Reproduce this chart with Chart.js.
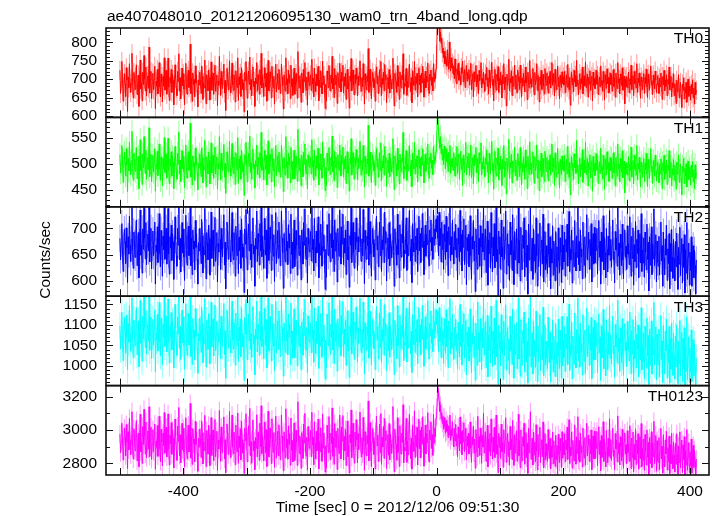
<!DOCTYPE html>
<html><head><meta charset="utf-8">
<script src="https://cdn.jsdelivr.net/npm/chart.js@4/dist/chart.umd.min.js"></script>
<style>html,body{margin:0;padding:0;background:#fff;}#wrap{width:717px;height:516px;}</style>
</head><body><div id="wrap"><canvas id="c" width="717" height="516"></canvas></div>
<script>
const titleText = "ae407048010_20121206095130_wam0_trn_4band_long.qdp";
const xTitle = "Time [sec] 0 = 2012/12/06 09:51:30";
const yTitle = "Counts/sec";
const binStart = -500;
const binSize = 1;
const panelNames = ["TH0", "TH1", "TH2", "TH3", "TH0123"];
const xTickLabels = [-400, -200, 0, 200, 400];
const yMins = [596, 417, 571, 952, 2730];
const yMaxs = [839, 589, 741, 1170, 3267];
const yMajor = [50, 50, 50, 50, 200];
const yMinor = [10, 10, 10, 10, 100];
const errHalf = [26, 22, 26, 33, 54];

const th0 = [
724,661,693,748,702,640,679,715,688,653,731,697,612,706,677,742,689,664,701,770,683,649,718,695,672,
706,739,658,684,711,626,697,752,673,690,641,719,685,764,700,668,733,654,692,709,675,787,662,698,721,
647,688,716,671,699,735,620,694,681,726,660,703,745,679,652,714,692,638,707,681,758,670,696,724,659,
691,757,678,642,705,689,726,664,713,698,630,684,739,702,675,655,721,693,769,667,704,646,688,730,682,
715,673,630,697,743,686,659,708,724,677,692,795,661,703,640,717,685,699,652,736,690,711,671,625,698,
684,719,699,661,736,708,645,690,676,752,688,633,712,697,668,725,704,643,683,747,670,694,716,659,705,
738,667,690,711,628,695,683,762,702,656,721,686,674,709,741,662,697,615,688,729,706,671,693,750,680,
663,701,744,684,669,712,697,638,723,690,677,758,642,706,685,716,653,731,699,672,690,611,719,696,748,
695,648,707,722,686,760,671,699,655,714,733,680,694,626,703,688,745,667,712,697,659,726,684,770,676,
709,688,653,731,702,679,716,640,694,751,668,687,720,703,649,735,691,676,708,632,699,741,665,689,715,
672,727,698,661,689,741,706,683,619,712,695,667,758,684,701,660,724,690,712,647,738,679,701,656,693,
730,659,684,715,693,648,775,699,676,709,688,637,717,700,663,727,693,745,681,670,706,629,719,697,682,
698,712,669,754,687,703,652,730,691,666,714,682,706,735,641,697,678,723,692,660,749,686,709,673,620,
686,641,722,700,677,737,694,668,711,689,762,674,703,650,729,685,712,696,634,718,691,677,743,701,665,
719,695,738,662,706,681,716,645,698,727,673,691,621,708,694,756,668,700,725,683,657,712,688,730,699,
654,708,683,719,750,690,667,704,679,742,697,632,715,688,671,709,693,783,664,701,727,680,646,696,718,
703,677,696,640,714,733,688,709,661,694,726,679,748,655,702,686,719,668,740,697,712,636,689,705,674,
726,662,711,690,673,699,757,684,627,716,700,693,664,737,681,705,645,720,692,676,711,698,769,659,688,
681,703,729,656,694,678,712,741,689,667,704,636,723,696,683,748,670,707,688,716,652,699,731,684,710,
664,716,690,735,702,651,689,722,676,708,693,744,680,661,714,697,725,683,705,668,742,694,716,700,728,
768,852,879,866,841,803,828,797,812,771,785,758,776,741,762,752,735,780,746,727,801,744,722,758,730,
742,714,736,701,755,719,688,728,711,743,697,722,705,684,731,716,749,693,708,726,677,712,737,695,718,
701,726,684,709,743,671,698,715,652,720,693,704,737,679,712,689,660,724,696,711,745,676,702,688,719,
690,667,714,698,732,681,704,659,725,692,676,717,746,683,699,641,708,727,689,670,713,695,734,664,702,
684,719,697,649,711,688,742,671,706,693,627,714,682,699,754,668,701,690,723,655,708,680,696,738,673,
712,686,663,725,694,707,672,738,689,651,702,681,716,697,665,733,690,708,644,719,693,676,751,687,699,
678,704,729,690,657,718,684,697,742,669,710,691,638,706,685,724,672,694,713,681,660,729,697,683,717,
695,662,708,687,721,676,700,745,683,715,692,654,727,689,671,698,736,680,706,646,711,693,677,720,688,
706,684,721,663,697,712,678,740,690,671,705,629,696,718,685,703,665,724,692,710,679,751,684,698,657,
689,715,672,701,688,733,660,696,709,681,747,677,692,714,651,705,687,723,669,695,708,641,719,683,702,
674,699,724,686,710,658,693,706,679,736,684,697,667,721,690,643,712,696,675,728,688,705,662,694,717,
685,712,667,698,726,680,703,651,716,692,674,745,689,701,660,714,697,682,731,670,694,708,633,700,679,
707,676,690,719,663,701,685,738,672,696,710,655,721,688,699,676,742,664,703,690,717,681,648,706,693,
672,698,715,661,704,688,727,679,650,713,692,670,701,736,684,696,658,711,689,674,722,697,663,686,709,
688,661,703,679,716,692,645,707,684,724,668,697,680,712,655,699,686,733,671,694,708,652,690,677,715,
655,688,673,634,697,665,680,712,649,676,691,658,623,687,670,704,646,679,663,692,637,674,700,653,681,
667,643,685,660,698,649,676,632,691,658,670
];
const th1 = [
517,482,499,535,508,464,491,522,503,476,529,497,446,510,486,541,501,479,506,562,494,468,520,500,485,
509,531,471,493,514,452,500,546,487,498,460,519,492,552,505,481,526,470,499,512,488,569,475,502,518,
465,496,516,484,503,529,447,500,490,524,477,507,538,489,468,513,498,457,510,490,550,483,501,519,472,
497,549,487,461,509,495,523,476,514,502,452,492,533,505,486,470,520,499,561,480,507,465,495,525,490,
514,485,454,501,536,493,472,511,523,487,498,578,474,506,459,515,493,502,468,530,497,512,483,450,501,
492,519,503,475,530,511,463,497,488,545,494,455,513,501,480,522,507,461,491,540,482,499,516,472,508,
532,480,497,513,451,500,490,552,505,469,520,493,486,510,537,474,501,443,495,523,509,484,498,543,490,
476,506,539,493,481,513,501,460,521,497,488,550,462,509,492,515,470,526,502,484,497,439,517,499,541,
500,465,510,520,494,553,483,502,470,514,528,490,499,453,506,495,536,479,512,501,473,521,493,560,487,
511,494,469,525,506,489,516,459,500,544,480,494,518,505,465,529,497,486,510,455,503,535,477,496,515,
484,522,501,474,496,535,508,492,446,512,499,478,552,493,504,472,520,497,513,463,531,488,504,470,499,
526,471,492,514,499,466,566,503,487,510,495,457,516,502,475,522,499,538,490,481,508,452,517,501,493,
502,513,480,546,494,506,468,526,497,476,515,491,508,530,459,501,488,519,497,472,542,494,511,484,448,
493,458,520,503,487,531,499,479,512,495,553,484,505,467,524,493,513,500,454,517,497,487,536,504,476,
516,500,532,474,508,490,515,462,502,523,482,497,447,510,499,548,478,503,521,492,470,512,495,527,502,
469,510,491,516,543,497,478,506,487,535,501,455,514,494,481,509,499,574,476,504,522,489,463,500,517,
505,486,500,458,513,529,494,510,474,499,521,487,540,467,505,492,516,478,533,500,512,456,496,507,483,
520,475,511,496,484,502,548,491,450,515,503,499,476,530,488,507,461,518,497,484,511,502,560,471,495,
489,505,525,468,500,486,512,535,495,477,507,456,520,501,490,541,480,509,494,515,465,502,527,491,511,
476,514,497,529,504,463,495,519,485,510,499,538,488,472,513,502,520,491,507,479,534,500,515,505,523,
541,586,593,562,548,530,552,519,538,507,528,498,534,512,490,529,503,518,485,522,497,535,481,509,494,
510,487,521,498,476,513,495,533,480,506,519,470,502,524,489,511,458,516,497,483,509,541,478,500,514,
492,520,477,505,536,473,499,512,461,517,496,504,531,482,510,492,465,521,500,508,540,478,503,490,513,
494,475,511,499,527,485,503,463,520,495,480,514,543,486,500,451,508,524,491,476,511,497,530,469,502,
488,514,498,458,509,491,535,474,504,496,442,511,485,500,547,472,502,493,518,463,505,484,497,532,477,
507,489,468,520,496,505,475,531,491,459,501,484,513,498,470,526,492,506,452,514,494,479,542,488,500,
480,503,522,491,462,514,486,497,536,472,507,493,448,505,487,520,475,495,510,483,466,524,497,485,512,
495,467,506,488,517,478,499,538,484,511,493,458,521,489,474,498,530,481,504,453,508,493,479,515,488,
505,486,516,466,497,509,480,534,491,474,503,440,496,514,487,501,469,519,492,507,481,545,485,498,461,
490,511,475,499,489,527,464,496,507,482,541,479,493,510,457,503,488,517,472,495,506,447,514,485,500,
477,499,519,487,507,462,493,504,481,530,486,497,470,516,491,451,509,496,478,523,489,503,466,494,512,
486,509,471,497,521,482,501,457,512,493,476,538,490,499,465,510,496,483,525,473,494,505,444,499,480,
502,478,491,514,467,499,486,532,474,496,506,461,516,489,498,478,535,469,501,490,512,483,455,503,494,
474,497,510,465,501,488,520,480,456,508,492,472,499,529,485,495,462,506,489,476,516,496,467,487,503,
486,463,499,480,509,492,452,502,485,516,470,496,481,507,460,497,487,525,473,494,503,457,490,478,508,
468,497,485,451,503,479,492,517,464,488,499,473,440,495,484,510,462,491,477,500,455,486,505,469,493,
480,459,497,474,504,465,489,452,498,471,483
];
const th2 = [
681,640,672,709,659,618,666,698,675,633,701,663,597,684,651,723,668,637,679,741,656,624,693,670,645,
688,716,629,661,692,606,673,735,649,668,615,699,660,749,682,642,711,631,670,689,657,760,636,676,700,
623,664,695,648,677,712,594,668,656,703,635,683,728,652,627,696,666,609,685,659,744,641,670,700,632,
667,738,651,613,684,663,706,639,690,674,603,659,722,679,648,628,700,668,756,640,681,617,662,711,653,
699,645,601,672,725,660,630,686,704,648,666,771,629,681,612,697,661,676,621,715,664,690,642,594,673,
657,700,675,633,717,686,615,665,650,738,661,604,692,672,640,706,681,611,654,731,643,668,697,628,683,
721,637,666,692,598,671,655,752,679,622,700,660,646,688,726,630,674,585,662,712,684,641,668,740,652,
636,678,730,657,640,692,673,609,704,665,648,745,614,683,658,697,624,718,671,645,664,578,699,670,736,
668,621,684,708,657,751,640,670,626,693,720,651,667,590,681,661,733,637,690,674,630,709,657,762,646,
685,660,624,719,678,649,697,605,668,741,639,658,702,680,620,726,664,647,688,599,672,730,633,662,696,
643,712,671,629,661,733,682,654,586,690,667,636,755,657,675,631,707,663,690,614,727,650,674,624,665,
716,627,656,696,668,611,773,675,648,687,660,602,697,674,632,711,668,737,653,641,683,596,700,670,655,
672,694,638,746,660,679,619,719,664,634,695,653,683,722,606,671,649,708,666,628,742,657,688,641,584,
660,607,707,675,648,728,669,636,690,663,757,643,678,618,716,657,692,672,598,700,665,647,735,678,632,
703,670,727,631,681,653,697,612,672,714,640,664,588,686,668,749,635,675,711,654,624,693,660,720,674,
620,684,655,700,744,664,637,680,648,736,673,595,696,661,641,685,667,782,630,677,713,651,609,671,700,
679,646,671,602,693,723,659,686,627,668,712,648,741,618,678,660,703,635,731,672,694,600,663,682,642,
711,629,688,665,644,676,752,656,590,699,675,667,630,727,650,680,606,707,664,645,689,672,764,624,658,
652,681,720,620,669,648,695,734,661,638,679,597,709,673,655,744,637,685,659,700,618,676,723,657,690,
635,701,664,729,676,612,663,706,647,688,669,738,652,629,697,674,716,657,683,641,735,668,699,680,717,
694,724,681,648,731,667,700,636,712,660,690,622,707,675,641,723,655,694,610,703,669,742,638,684,650,
716,665,632,694,659,708,645,681,602,701,670,637,734,656,688,619,697,664,718,631,661,706,593,682,658,
689,627,668,724,648,603,684,661,715,638,676,580,699,662,622,737,650,681,628,705,664,607,690,655,746,
640,673,699,616,659,714,592,678,652,692,624,730,663,617,683,648,709,625,672,740,637,660,568,695,651,
684,622,716,646,664,586,703,641,678,733,613,661,690,629,670,601,712,650,677,620,726,658,593,694,640,
667,699,614,655,744,634,677,600,702,645,622,687,662,720,608,652,697,626,668,575,708,640,664,752,619,
656,681,603,699,638,670,616,720,648,590,690,627,663,710,610,659,678,632,727,598,646,694,621,667,633,
614,709,651,626,684,585,661,634,705,611,676,645,600,694,627,665,572,701,639,616,682,654,597,706,622,
668,636,693,609,679,655,708,628,672,732,618,660,640,697,596,677,651,627,715,656,619,686,645,743,631,
675,619,697,646,661,604,712,653,630,684,607,669,726,640,664,693,622,679,648,709,598,657,690,632,702,
634,690,658,700,613,665,715,645,676,594,693,637,662,724,621,683,654,606,700,660,617,685,649,734,639,
679,626,668,716,640,656,596,694,659,682,628,748,647,672,611,689,663,629,708,640,604,674,697,645,666,
622,705,651,670,631,722,656,609,685,643,701,592,669,637,713,625,679,652,697,606,662,690,634,728,618,
659,634,682,607,693,655,621,708,641,674,581,684,630,664,703,612,671,642,737,629,650,688,598,676,636,
628,685,611,657,712,638,667,590,693,644,612,680,649,706,601,661,633,690,585,671,618,698,646,605,679,
643,600,675,627,691,648,584,664,632,702,610,654,681,596,670,626,688,577,660,615,711,603,646,672,592,
655,620,684,590,648,667,606,658,630,575,640
];
const th3 = [
1097,1041,1082,1131,1067,1013,1075,1118,1088,1031,1124,1071,990,1103,1058,1147,1080,1036,1093,1166,1062,1020,1112,1078,1049,
1104,1142,1027,1070,1110,998,1084,1160,1055,1079,1011,1121,1066,1170,1095,1045,1135,1029,1077,1101,1060,1175,1038,1088,1119,
1018,1072,1114,1050,1090,1137,986,1080,1063,1125,1036,1096,1155,1059,1024,1116,1076,1003,1101,1068,1168,1047,1083,1122,1034,
1074,1163,1058,1007,1097,1071,1130,1039,1108,1085,995,1066,1150,1092,1052,1026,1119,1078,1180,1042,1096,1016,1070,1136,1056,
1120,1049,992,1083,1152,1069,1025,1099,1128,1051,1076,1190,1023,1093,1004,1115,1067,1087,1015,1140,1072,1106,1044,982,1081,
1062,1117,1089,1033,1143,1102,1008,1073,1054,1164,1069,997,1111,1083,1040,1127,1097,1005,1060,1155,1046,1078,1115,1024,1095,
1148,1037,1074,1109,985,1080,1059,1172,1091,1018,1121,1068,1048,1104,1152,1028,1086,970,1070,1136,1099,1043,1077,1168,1055,
1032,1088,1158,1063,1041,1106,1082,1002,1129,1073,1050,1175,1011,1095,1061,1114,1022,1142,1079,1046,1071,965,1118,1077,1162,
1076,1015,1093,1126,1061,1180,1040,1079,1021,1109,1145,1054,1074,978,1090,1066,1158,1034,1101,1083,1026,1133,1061,1188,1047,
1096,1064,1018,1140,1087,1050,1113,995,1075,1166,1036,1062,1120,1089,1012,1150,1070,1048,1103,988,1081,1157,1031,1068,1110,
1040,1134,1081,1023,1066,1159,1094,1057,975,1104,1073,1033,1185,1061,1084,1027,1127,1069,1103,1003,1153,1052,1085,1019,1071,
1139,1020,1058,1112,1076,1000,1195,1083,1047,1098,1065,990,1107,1081,1026,1131,1074,1162,1053,1038,1094,983,1122,1077,1057,
1078,1105,1032,1170,1065,1088,1009,1141,1070,1030,1109,1054,1093,1146,994,1077,1048,1128,1071,1021,1168,1059,1100,1040,968,
1063,996,1126,1085,1049,1154,1073,1028,1101,1069,1186,1039,1087,1006,1138,1060,1106,1080,987,1115,1070,1046,1160,1087,1024,
1124,1079,1157,1022,1090,1053,1111,1001,1081,1135,1036,1067,972,1097,1072,1178,1029,1083,1131,1057,1016,1108,1065,1144,1084,
1010,1093,1055,1116,1165,1069,1032,1089,1044,1156,1078,980,1105,1064,1038,1096,1073,1199,1019,1086,1133,1050,1002,1076,1114,
1085,1042,1077,991,1103,1145,1063,1096,1017,1071,1129,1045,1162,1008,1088,1061,1116,1026,1150,1074,1102,988,1067,1094,1037,
1130,1021,1097,1066,1040,1080,1176,1056,979,1111,1078,1069,1018,1147,1049,1092,997,1123,1068,1042,1099,1071,1183,1013,1058,
1050,1089,1141,1010,1073,1044,1107,1155,1064,1030,1085,984,1125,1076,1052,1167,1033,1091,1059,1113,1005,1080,1142,1056,1100,
1027,1114,1065,1148,1083,999,1062,1120,1041,1095,1069,1160,1048,1017,1104,1074,1134,1055,1090,1035,1157,1067,1108,1082,1137,
1101,1133,1079,1035,1142,1060,1093,1020,1118,1052,1087,1006,1115,1070,1031,1137,1047,1097,996,1110,1064,1164,1029,1082,1043,
1126,1058,1016,1094,1050,1114,1037,1079,993,1107,1065,1022,1150,1048,1090,1002,1101,1059,1128,1019,1056,1111,978,1083,1046,
1095,1012,1062,1139,1034,983,1080,1053,1122,1021,1072,965,1104,1057,1001,1156,1040,1081,1010,1115,1061,991,1091,1044,1170,
1026,1070,1108,996,1051,1123,973,1076,1038,1097,1007,1146,1060,999,1085,1031,1117,1003,1068,1160,1022,1054,955,1099,1041,
1082,1000,1125,1032,1059,967,1110,1025,1073,1149,990,1052,1093,1014,1066,979,1121,1036,1075,1004,1139,1050,970,1102,1027,
1063,1106,993,1043,1166,1017,1071,975,1113,1030,1002,1086,1055,1131,985,1040,1104,1009,1061,958,1117,1024,1058,1180,997,
1045,1081,980,1108,1023,1063,996,1134,1034,962,1097,1011,1054,1125,988,1047,1074,1015,1143,976,1033,1101,1002,1060,1019,
993,1119,1042,1008,1083,961,1055,1016,1112,985,1073,1029,974,1103,1006,1057,953,1114,1024,994,1087,1039,970,1121,1000,
1062,1020,1096,986,1078,1041,1120,1003,1066,1151,989,1051,1026,1106,968,1073,1036,1004,1129,1048,995,1089,1031,1165,1013,
1072,997,1104,1034,1055,978,1125,1044,1011,1088,982,1061,1141,1022,1057,1099,1001,1080,1037,1118,969,1049,1094,1014,1111,
1015,1090,1047,1106,983,1060,1127,1032,1071,965,1098,1019,1053,1138,993,1085,1043,976,1112,1051,990,1082,1028,1148,1018,
1076,1005,1064,1121,1030,1049,972,1101,1046,1079,1007,1160,1035,1068,987,1093,1056,1008,1115,1026,977,1070,1103,1038,1058,
999,1109,1040,1067,1012,1131,1048,981,1087,1029,1113,963,1062,1017,1122,995,1077,1039,1100,973,1052,1094,1014,1142,990,
1050,1011,1081,969,1097,1045,995,1117,1024,1074,955,1089,1001,1058,1110,980,1069,1027,1155,1003,1036,1095,966,1078,1012,
1003,1090,973,1046,1123,1016,1061,960,1099,1030,981,1085,1037,1114,970,1054,1008,1096,958,1066,992,1105,1033,977,1080,
1025,968,1073,998,1100,1034,957,1060,1006,1111,975,1040,1082,962,1067,993,1093,954,1049,987,1120,966,1029,1071,960,
1043,985,1088,961,1031,1064,976,1052,1002,955,1019
];
const th0123 = [
2975,2863,2931,3041,2947,2820,2902,3012,2959,2845,3033,2925,2768,2990,2881,3070,2937,2852,2966,3110,2893,2826,3008,2950,2874,
2988,3057,2815,2915,2981,2780,2944,3095,2869,2930,2799,3021,2912,3124,2963,2856,3048,2834,2920,2995,2885,3140,2841,2940,3018,
2824,2918,3002,2871,2958,3036,2764,2934,2896,3027,2842,2976,3083,2889,2810,3005,2928,2785,2980,2906,3105,2861,2950,3016,2838,
2921,3097,2884,2790,2970,2916,3044,2854,2998,2951,2772,2896,3066,2968,2877,2818,3024,2930,3136,2846,2972,2803,2912,3040,2880,
3012,2866,2777,2945,3074,2908,2827,2978,3030,2868,2924,3160,2831,2961,2794,3009,2919,2946,2808,3052,2913,2989,2860,2752,2952,
2897,3006,2957,2835,3055,2985,2796,2929,2878,3088,2922,2780,2997,2949,2855,3028,2973,2786,2898,3075,2847,2935,3001,2816,2962,
3064,2840,2926,2993,2757,2939,2886,3118,2958,2813,3019,2913,2865,2981,3079,2826,2942,2744,2906,3037,2968,2853,2929,3112,2881,
2836,2950,3090,2901,2857,2987,2936,2792,3030,2918,2870,3103,2800,2964,2896,3008,2821,3054,2943,2861,2922,2740,3013,2937,3098,
2927,2809,2961,3026,2904,3130,2844,2930,2801,2997,3061,2873,2935,2762,2955,2891,3092,2840,2986,2940,2818,3042,2898,3146,2859,
2968,2900,2816,3047,2944,2863,3002,2781,2931,3113,2838,2889,3013,2950,2799,3068,2920,2866,2985,2776,2936,3084,2831,2909,2993,
2845,3031,2938,2821,2914,3091,2965,2872,2755,2990,2925,2832,3128,2895,2946,2825,3025,2913,2979,2789,3072,2877,2937,2808,2920,
3043,2817,2885,2999,2930,2788,3170,2953,2859,2966,2904,2770,2984,2940,2830,3036,2922,3100,2880,2844,2957,2759,3021,2933,2891,
2932,3000,2840,3107,2912,2956,2792,3050,2921,2827,2992,2875,2962,3066,2767,2928,2869,3014,2919,2812,3097,2893,2983,2848,2748,
2906,2771,3028,2951,2864,3081,2930,2822,2981,2917,3133,2843,2955,2795,3039,2897,2994,2941,2763,3010,2915,2858,3090,2945,2826,
3020,2934,3087,2819,2961,2874,3004,2787,2936,3055,2840,2913,2742,2973,2923,3121,2834,2947,3041,2881,2801,2988,2900,3062,2940,
2803,2978,2882,3015,3108,2921,2838,2954,2856,3076,2935,2758,2990,2906,2845,2967,2918,3175,2815,2952,3045,2870,2780,2928,3009,
2955,2853,2932,2766,2990,3083,2905,2970,2812,2926,3036,2864,3099,2794,2958,2899,3022,2830,3069,2937,2996,2769,2917,2973,2849,
3039,2822,2977,2915,2860,2944,3141,2882,2750,3006,2934,2913,2819,3074,2866,2964,2781,3027,2911,2855,2981,2926,3152,2803,2896,
2874,2962,3070,2806,2935,2851,2994,3094,2909,2829,2951,2765,3031,2928,2872,3115,2836,2969,2897,3017,2790,2945,3066,2886,2998,
2833,3019,2916,3080,2955,2783,2906,3030,2856,2982,2924,3104,2868,2808,3001,2941,3049,2890,2973,2848,3096,2921,3010,2960,3072,
3085,3190,3252,3228,3171,3112,3148,3065,3104,3040,3082,3005,3076,3018,2981,3058,2992,3034,2955,3026,2972,3090,2938,3003,2964,
3050,2960,2898,3010,2934,3035,2905,2977,2840,3019,2950,2876,3079,2917,2990,2852,2998,2929,3044,2870,2935,3012,2821,2962,2903,
2982,2857,2930,3049,2891,2806,2957,2913,3024,2861,2946,2771,3003,2924,2840,3083,2893,2960,2848,3011,2926,2800,2969,2899,3101,
2862,2935,2990,2812,2903,3029,2779,2946,2874,2980,2846,3067,2925,2826,2957,2870,3018,2835,2938,3090,2855,2912,2745,2981,2895,
2960,2829,3036,2870,2924,2777,3003,2860,2941,3074,2806,2906,2979,2842,2931,2789,3022,2880,2947,2823,3058,2909,2788,2972,2861,
2931,2996,2813,2888,3095,2846,2935,2773,3001,2858,2815,2960,2902,3041,2795,2880,2985,2832,2923,2740,3012,2864,2914,3110,2824,
2893,2952,2790,2988,2851,2929,2808,3032,2872,2760,2973,2838,2906,3017,2803,2891,2941,2840,3049,2774,2863,2980,2821,2918,2845,
2812,3003,2882,2829,2949,2766,2903,2837,2987,2796,2936,2856,2781,2969,2822,2908,2736,2975,2853,2806,2950,2875,2775,2990,2831,
2925,2851,2978,2810,2940,2880,3017,2823,2921,3062,2800,2897,2846,2989,2771,2938,2868,2815,3031,2885,2795,2960,2860,3080,2818,
2937,2807,2981,2865,2905,2778,3012,2884,2832,2955,2789,2918,3041,2844,2910,2970,2812,2946,2858,3001,2762,2893,2965,2829,2993,
2826,2961,2888,2992,2786,2912,3020,2853,2936,2757,2967,2835,2899,3050,2811,2944,2873,2779,2998,2897,2804,2950,2842,3068,2832,
2942,2818,2915,3011,2844,2881,2761,2979,2886,2940,2809,3085,2858,2923,2790,2960,2901,2814,3004,2840,2770,2930,2983,2855,2912,
2799,2996,2864,2917,2812,3026,2870,2769,2952,2835,2988,2749,2914,2821,3007,2793,2940,2856,2978,2765,2890,2961,2827,3039,2780,
2890,2818,2947,2758,2973,2876,2791,3001,2836,2927,2733,2954,2800,2905,2990,2774,2921,2840,3052,2798,2862,2968,2752,2936,2817,
2806,2955,2762,2880,3010,2826,2903,2741,2972,2845,2778,2941,2857,2992,2760,2894,2810,2963,2738,2912,2797,2981,2852,2768,2929,
2848,2749,2920,2795,2978,2857,2735,2905,2803,2989,2772,2864,2940,2745,2911,2824,2960,2730,2876,2790,3003,2758,2838,2925,2744,
2870,2784,2946,2741,2835,2908,2775,2880,2812,2733,2826
];

const series = [th0, th1, th2, th3, th0123];
const lineColors = ["#ff0000", "#00ff00", "#0000ff", "#00ffff", "#ff00ff"];
const errColors = ["rgba(255,0,0,0.4)", "rgba(0,255,0,0.4)", "rgba(0,0,255,0.4)", "rgba(0,255,255,0.45)", "rgba(255,0,255,0.4)"];

const FONT = "'Liberation Sans', Arial, Helvetica, sans-serif";
Chart.defaults.font.family = FONT;
Chart.defaults.font.size = 15.5;
Chart.defaults.color = "#000";

function toPoints(vals) { return vals.map((v, i) => ({ x: binStart + i * binSize, y: v })); }
function isMultiple(v, step) { return Math.abs(v / step - Math.round(v / step)) < 1e-6; }

const datasets = series.map((vals, k) => ({
  data: toPoints(vals), yAxisID: 'y' + k, borderColor: lineColors[k], borderWidth: 1,
  pointRadius: 0, tension: 0, panel: k
}));

const scales = {
  x: {
    type: 'linear', position: 'bottom', min: -522, max: 430, offset: false,
    grid: { display: false, drawTicks: false }, border: { display: false },
    ticks: { autoSkip: false, maxRotation: 0, padding: 7, font: { size: 15.5 }, callback: v => String(v) },
    afterBuildTicks: s => { s.ticks = xTickLabels.map(v => ({ value: v })); },
    afterFit: s => { s.height = 41; }
  }
};
for (let k = 0; k < 5; k++) {
  scales['y' + k] = {
    type: 'linear', position: 'left', stack: 'panels', stackWeight: 1, weight: 5 - k,
    min: yMins[k], max: yMaxs[k],
    grid: { display: false, drawTicks: false }, border: { display: false },
    ticks: { autoSkip: false, padding: 9, font: { size: 15.5 }, callback: v => String(v) },
    afterBuildTicks: s => {
      const out = [];
      for (let v = Math.ceil(yMins[k] / yMajor[k]) * yMajor[k]; v <= yMaxs[k]; v += yMajor[k]) out.push({ value: v });
      s.ticks = out;
    },
    afterFit: s => { s.width = 106; }
  };
}

function clipPanel(chart, s) {
  const a = chart.chartArea;
  const ctx = chart.ctx;
  ctx.beginPath();
  ctx.rect(a.left, s.top, a.right - a.left, s.bottom - s.top);
  ctx.clip();
}

const panelPlugin = {
  id: 'panelPlugin',
  beforeDatasetsDraw(chart) {
    // error bars (light) under the lines
    const ctx = chart.ctx;
    const xs = chart.scales.x;
    for (let k = 0; k < 5; k++) {
      const s = chart.scales['y' + k];
      ctx.save();
      clipPanel(chart, s);
      ctx.strokeStyle = errColors[k];
      ctx.lineWidth = 1;
      ctx.beginPath();
      series[k].forEach((v, i) => {
        const x = xs.getPixelForValue(binStart + i * binSize);
        ctx.moveTo(x, s.getPixelForValue(v - errHalf[k]));
        ctx.lineTo(x, s.getPixelForValue(v + errHalf[k]));
      });
      ctx.stroke();
      ctx.restore();
    }
  },
  beforeDatasetDraw(chart, args) {
    const ds = chart.data.datasets[args.index];
    chart.ctx.save();
    clipPanel(chart, chart.scales[ds.yAxisID]);
  },
  afterDatasetDraw(chart) { chart.ctx.restore(); },
  afterDraw(chart) {
    const ctx = chart.ctx;
    const a = chart.chartArea;
    const xs = chart.scales.x;
    ctx.save();
    ctx.strokeStyle = '#111';
    ctx.lineWidth = 1;
    for (let k = 0; k < 5; k++) {
      const s = chart.scales['y' + k];
      ctx.beginPath();
      const start = Math.ceil(yMins[k] / yMinor[k]) * yMinor[k];
      for (let v = start; v <= yMaxs[k]; v += yMinor[k]) {
        const y = Math.round(s.getPixelForValue(v)) + 0.5;
        const len = isMultiple(v, yMajor[k]) ? 7 : 4;
        ctx.moveTo(a.left, y); ctx.lineTo(a.left + len, y);
        ctx.moveTo(a.right, y); ctx.lineTo(a.right - len, y);
      }
      for (let v = -500; v <= 400; v += 100) {
        const x = Math.round(xs.getPixelForValue(v)) + 0.5;
        ctx.moveTo(x, s.top); ctx.lineTo(x, s.top + 7);
        ctx.moveTo(x, s.bottom); ctx.lineTo(x, s.bottom - 7);
      }
      ctx.stroke();
    }
    ctx.lineWidth = 1.6;
    for (let k = 0; k < 5; k++) {
      const s = chart.scales['y' + k];
      ctx.strokeRect(a.left, s.top, a.right - a.left, s.bottom - s.top);
    }
    ctx.fillStyle = '#000';
    ctx.font = '15.5px ' + FONT;
    ctx.textBaseline = 'alphabetic';
    ctx.textAlign = 'left';
    ctx.fillText(titleText, 107, 20.5);
    const lens = series.map(s => s.length);
    if (lens.some(n => n !== 911)) { ctx.font = '9px ' + FONT; ctx.fillText('len ' + lens.join(','), 2, 512); ctx.font = '15.5px ' + FONT; }
    ctx.textAlign = 'right';
    for (let k = 0; k < 5; k++) {
      const s = chart.scales['y' + k];
      ctx.fillText(panelNames[k], a.right - 6, s.top + 15.3);
    }
    ctx.textAlign = 'center';
    ctx.fillText(xTitle, 397.5, 511.5);
    ctx.translate(50, 260);
    ctx.rotate(-Math.PI / 2);
    ctx.fillText(yTitle, 0, 0);
    ctx.restore();
  }
};

new Chart(document.getElementById('c'), {
  type: 'line',
  data: { datasets },
  options: {
    responsive: false, animation: false,
    layout: { padding: { left: 0, right: 8, top: 28, bottom: 0 } },
    plugins: { legend: { display: false }, tooltip: { enabled: false }, title: { display: false } },
    scales
  },
  plugins: [panelPlugin]
});
</script></body></html>
